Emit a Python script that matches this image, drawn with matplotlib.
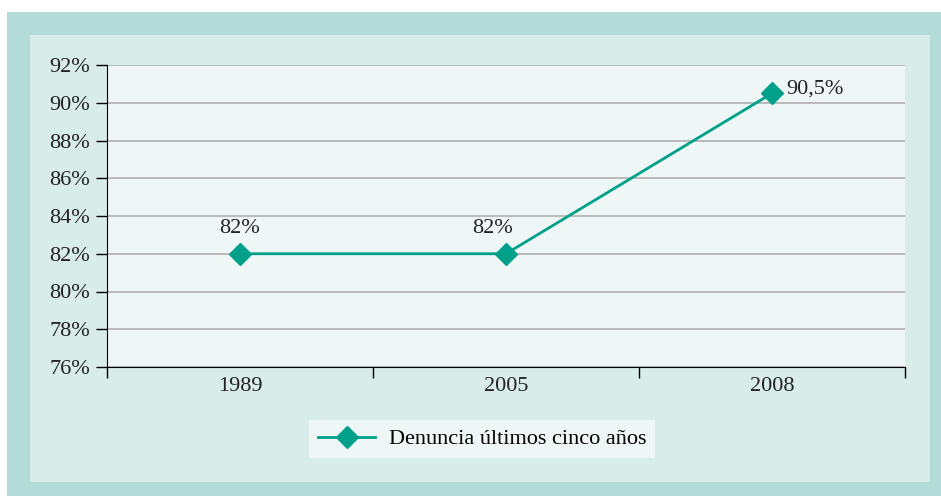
import matplotlib.pyplot as plt
from matplotlib.patches import Rectangle

# data
years = ["1989", "2005", "2008"]
values = [82, 82, 90.5]
point_labels = ["82%", "82%", "90,5%"]
y_ticks = [76, 78, 80, 82, 84, 86, 88, 90, 92]
series_name = "Denuncia últimos cinco años"

plt.rcParams['font.family'] = ['Liberation Serif', 'DejaVu Serif']
FS = 16
W, H = 941, 496
fig = plt.figure(figsize=(W / 100, H / 100), dpi=100)
fig.patch.set_facecolor("white")

# outer band and inner panel
fig.add_artist(Rectangle((7 / W, 0), 1 - 7 / W, 1 - 12 / H, transform=fig.transFigure,
                         facecolor="#b3dcd8", edgecolor="none", zorder=-3))
fig.add_artist(Rectangle((30 / W, 1 - 482 / H), (930 - 30) / W, (482 - 35) / H,
                         transform=fig.transFigure, facecolor="#d8ece9",
                         edgecolor="none", zorder=-2))

ax = fig.add_axes([107 / W, 1 - 367 / H, (905 - 107) / W, (367 - 65) / H])
ax.set_facecolor("#eef7f6")

x = list(range(len(years)))
line_color = "#00a08a"
ax.plot(x, values, color=line_color, lw=2, marker="D", markersize=11,
        label=series_name, zorder=3)

# point labels
ax.annotate(point_labels[0], (x[0], values[0]), xytext=(0, 11), textcoords="offset points",
            ha="center", va="bottom", fontsize=FS, color="#222222")
ax.annotate(point_labels[1], (x[1], values[1]), xytext=(-10, 11), textcoords="offset points",
            ha="center", va="bottom", fontsize=FS, color="#222222")
ax.annotate(point_labels[2], (x[2], values[2]), xytext=(10, 3), textcoords="offset points",
            ha="left", va="center", fontsize=FS, color="#222222")

ax.set_ylim(76, 92)
ax.set_yticks(y_ticks)
ax.set_yticklabels([f"{v}%" for v in y_ticks], fontsize=FS, color="#222222")
ax.set_xlim(-0.5, len(years) - 0.5)
ax.set_xticks(x)
ax.set_xticklabels(years, fontsize=FS, color="#222222")
ax.set_xticks([i - 0.5 for i in range(len(years) + 1)], minor=True)
ax.tick_params(axis="x", which="major", length=0, pad=7)
ax.tick_params(axis="x", which="minor", length=8, width=1, direction="out", color="black")
ax.tick_params(axis="y", length=8, width=1, direction="out", color="black", pad=4)

ax.grid(axis="y", color="#b0b0b0", lw=1.2)
ax.set_axisbelow(True)
for s in ["top", "right"]:
    ax.spines[s].set_visible(False)
ax.spines["left"].set_color("black")
ax.spines["bottom"].set_color("black")

leg = fig.legend(loc="center", bbox_to_anchor=(482 / W, 1 - 439 / H), fontsize=FS,
                 frameon=True, fancybox=False, handlelength=2.6, borderpad=0.4,
                 borderaxespad=0, handletextpad=0.6)
leg.get_frame().set_facecolor("#eef7f6")
leg.get_frame().set_edgecolor("none")
leg.get_frame().set_alpha(1)

fig.savefig("out.png", dpi=100)
